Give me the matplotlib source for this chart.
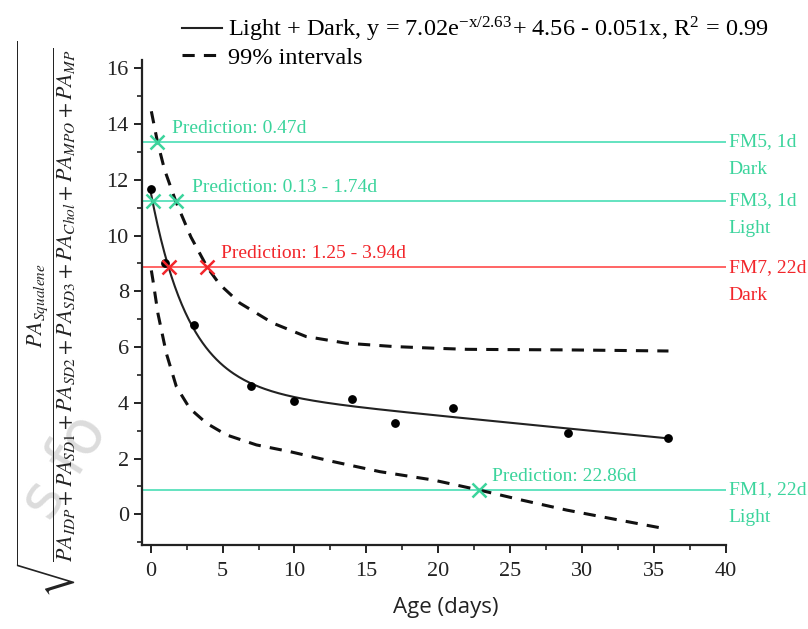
import numpy as np
import matplotlib
matplotlib.use("Agg")
import matplotlib.pyplot as plt
from matplotlib.lines import Line2D

plt.rcParams["font.family"] = ["Liberation Serif", "DejaVu Serif"]
plt.rcParams["mathtext.fontset"] = "stix"

# measured ratio vs storage age
age = [0, 1, 3, 7, 10, 14, 17, 21, 29, 36]
ratio = [11.68, 9.0, 6.8, 4.61, 4.08, 4.14, 3.28, 3.81, 2.91, 2.73]

# fit parameters (y = a*exp(-x/t) + b - c*x)
fit_a, fit_t, fit_b, fit_c = 7.02, 2.63, 4.56, 0.051

# 99% prediction band
upper_x = [0.05, 0.47, 0.97, 1.74, 2.8, 3.94, 4.8, 6.2, 8.5, 10.8, 13.6, 16.9,
           19.7, 22.0, 25.0, 28.9, 32.5, 36.0]
upper_y = [14.46, 13.37, 12.36, 11.24, 9.95, 8.86, 8.25, 7.58, 6.86, 6.38, 6.14,
           6.02, 5.96, 5.92, 5.91, 5.9, 5.88, 5.86]
lower_x = [0.05, 0.16, 0.51, 1.09, 1.79, 2.72, 3.88, 5.27, 7.36, 9.68, 12.7,
           15.95, 19.66, 22.86, 25.9, 28.95, 32.2, 35.4]
lower_y = [8.75, 8.4, 7.2, 5.78, 4.58, 3.8, 3.27, 2.85, 2.49, 2.25, 1.89,
           1.53, 1.23, 0.87, 0.5, 0.15, -0.17, -0.48]

# reference samples: level, predicted ages, labels, colour group
samples = ["FM5, 1d\nDark", "FM3, 1d\nLight", "FM7, 22d\nDark", "FM1, 22d\nLight"]
levels = [13.37, 11.24, 8.86, 0.87]
pred_ages = [[0.47], [0.13, 1.74], [1.25, 3.94], [22.86]]
pred_text = ["Prediction: 0.47d", "Prediction: 0.13 - 1.74d",
             "Prediction: 1.25 - 3.94d", "Prediction: 22.86d"]
pred_pos = [(1.5, 13.55), (2.9, 11.42), (4.9, 9.05), (23.7, 1.05)]
is_red = [False, False, True, False]

GREEN_LINE, GREEN_TXT = "#63e3c0", "#3bd49c"
RED_LINE, RED_TXT = "#ff6464", "#f2262b"

fig = plt.figure(figsize=(8.08, 6.29), dpi=100)
ax = fig.add_axes([142 / 808, 1 - 545 / 629, (726 - 142) / 808, (545 - 60) / 629])

# faint watermark on the left margin
fig.text(50 / 808, 1 - 522 / 629, "s fo", fontsize=44, color="#dcdcdc",
         rotation=58, rotation_mode="anchor", ha="left", va="baseline",
         family="DejaVu Sans", zorder=0)

xf = np.linspace(0, 36, 300)
yf = fit_a * np.exp(-xf / fit_t) + fit_b - fit_c * xf
ax.plot(xf, yf, color="#222222", lw=1.5, zorder=3)
ax.plot(upper_x, upper_y, color="#111111", lw=2.2, dashes=(4, 3), zorder=3)
ax.plot(lower_x, lower_y, color="#111111", lw=2.2, dashes=(4, 3), zorder=3)
ax.plot(age, ratio, "o", color="black", ms=5.3, zorder=4)

for lab, lev, xs, txt, pos, red in zip(samples, levels, pred_ages, pred_text,
                                       pred_pos, is_red):
    lc = RED_LINE if red else GREEN_LINE
    tc = RED_TXT if red else GREEN_TXT
    ax.axhline(lev, color=lc, lw=1.4, zorder=2)
    ax.plot(xs, [lev] * len(xs), "x", color=tc, ms=10, mew=1.8, zorder=5)
    ax.text(pos[0], pos[1], txt, color=tc, fontsize=14, va="bottom", ha="left")
    top, bottom = lab.split("\n")
    ax.annotate(top, (40, lev), xytext=(2, 0), textcoords="offset points",
                color=tc, fontsize=14, va="center", ha="left", annotation_clip=False)
    ax.annotate(bottom, (40, lev), xytext=(2, -20), textcoords="offset points",
                color=tc, fontsize=14, va="center", ha="left", annotation_clip=False)

ax.set_xlim(-0.6, 40)
ax.set_ylim(-1.1, 16.3)
ax.set_xticks(np.arange(0, 41, 5))
ax.set_xticks(np.arange(2.5, 40, 5), minor=True)
ax.set_yticks(np.arange(0, 17, 2))
ax.set_yticks(np.arange(-1, 17, 1), minor=True)
for s in ("top", "right"):
    ax.spines[s].set_visible(False)
for s in ("left", "bottom"):
    ax.spines[s].set_linewidth(1.6)
    ax.spines[s].set_color("#222222")
ax.tick_params(which="major", length=6, width=1.4, labelsize=16, colors="#222222")
ax.tick_params(axis="x", which="major", pad=6)
ax.tick_params(which="minor", length=3.5, width=1.2, colors="#222222")

fig.text(446 / 808, 1 - 608 / 629, "Age (days)", family="Open Sans", fontsize=16,
         ha="center", va="center", color="#222222")

fig.text(0.058, 0.493,
         r"$\sqrt{\frac{PA_{Squalene}}{PA_{IDP}+PA_{SD1}+PA_{SD2}+PA_{SD3}"
         r"+PA_{Chol}+PA_{MPO}+PA_{MP}}}$",
         rotation=90, ha="center", va="center", fontsize=22.5, color="#222222")

handles = [Line2D([], [], color="#222222", lw=1.5),
           Line2D([], [], color="#111111", lw=2.2, dashes=(4, 3))]
labels = [r"Light + Dark, y = 7.02e$^{\mathregular{-x/2.63}}$+ 4.56 - 0.051x, "
          r"R$^{\mathregular{2}}$ = 0.99", "99% intervals"]
fig.legend(handles, labels, loc="upper left", bbox_to_anchor=(182 / 808, 1 - 15 / 629),
           frameon=False, fontsize=17.5, handlelength=1.65, handletextpad=0.25,
           labelspacing=0.1, borderpad=0, borderaxespad=0)

fig.savefig("out.png", dpi=100, facecolor="white")
